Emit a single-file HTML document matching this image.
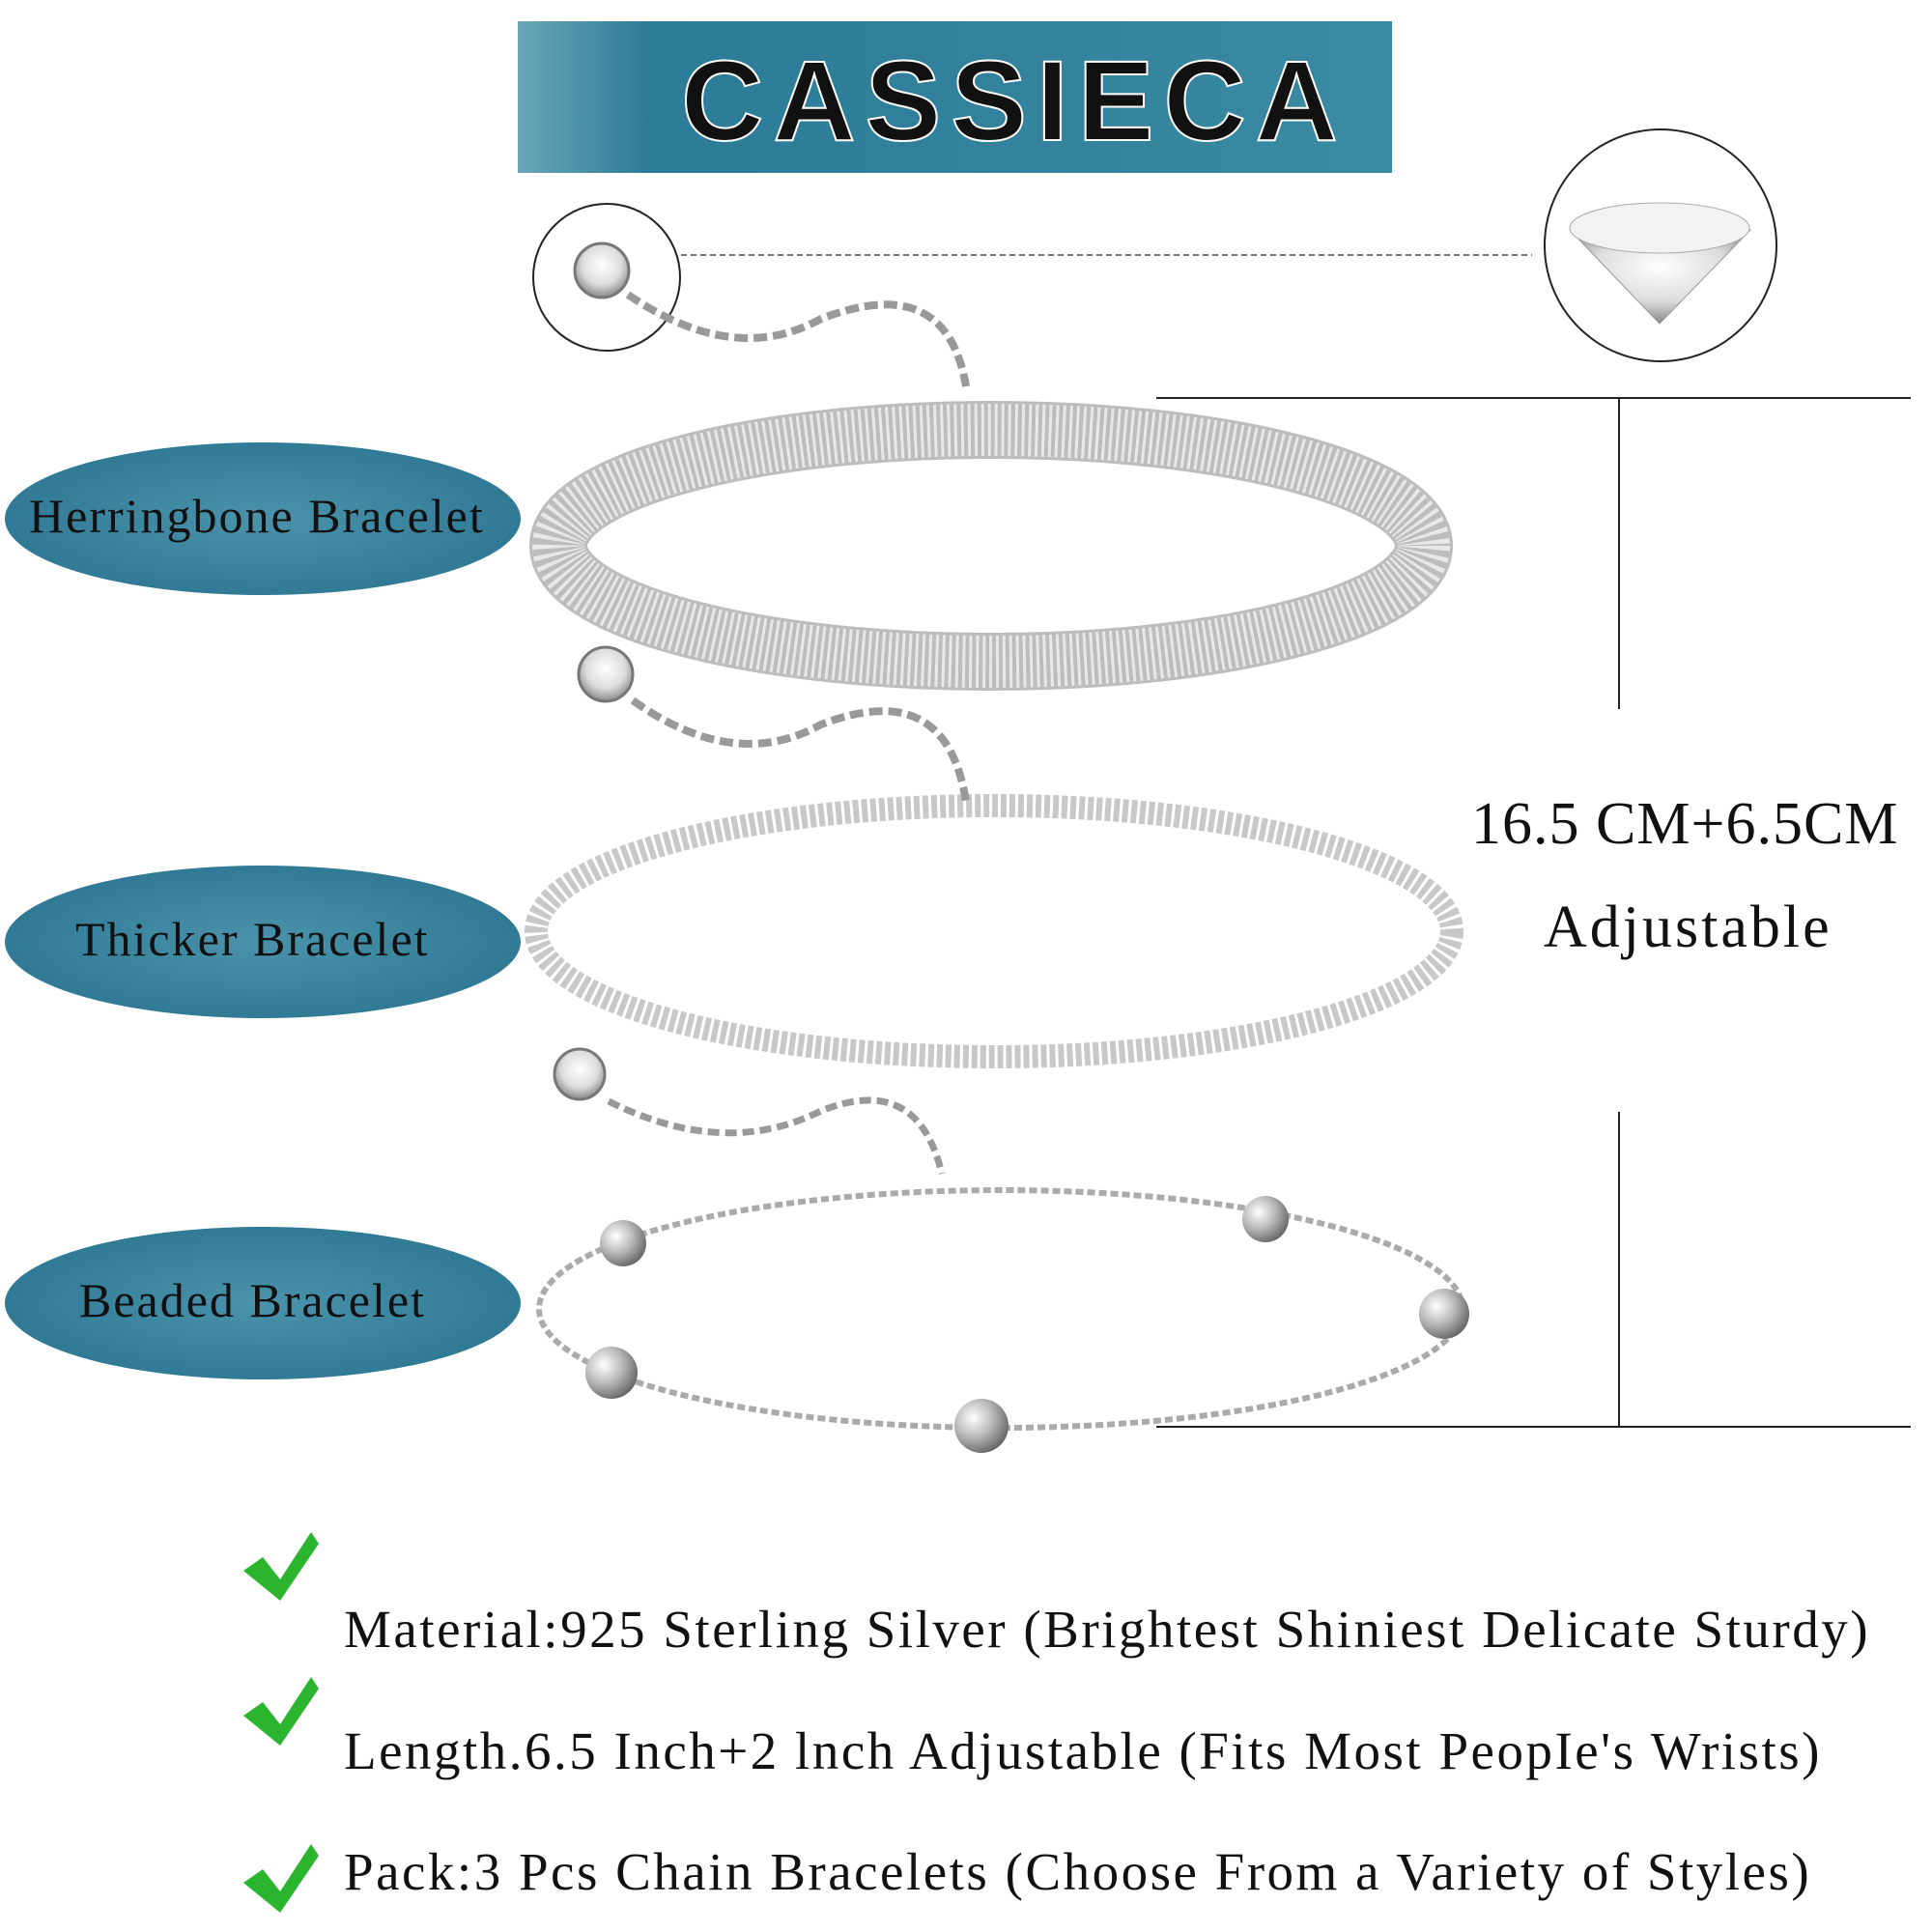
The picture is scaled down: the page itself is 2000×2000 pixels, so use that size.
<!DOCTYPE html>
<html><head><meta charset="utf-8"><style>
html,body{margin:0;padding:0;background:#fff;}
body{width:2000px;height:2000px;position:relative;overflow:hidden;font-family:"Liberation Serif",serif;}
.t{position:absolute;white-space:nowrap;color:#111;}
</style></head><body>
<svg width="2000" height="2000" style="position:absolute;left:0;top:0">
<defs>
<linearGradient id="bn" x1="0" x2="1"><stop offset="0" stop-color="#6aa6b8"/><stop offset="0.15" stop-color="#2c7b97"/><stop offset="1" stop-color="#3a8aa3"/></linearGradient>
<radialGradient id="el" cx="0.5" cy="0.5" r="0.6"><stop offset="0" stop-color="#4b93ab"/><stop offset="1" stop-color="#2b7592"/></radialGradient>
<radialGradient id="bead" cx="0.35" cy="0.35" r="0.7"><stop offset="0" stop-color="#fff"/><stop offset="0.5" stop-color="#bbb"/><stop offset="1" stop-color="#666"/></radialGradient>
<radialGradient id="gem" cx="0.5" cy="0.4" r="0.6"><stop offset="0" stop-color="#fff"/><stop offset="0.6" stop-color="#ddd"/><stop offset="1" stop-color="#888"/></radialGradient>
</defs>
<rect x="536" y="22" width="905" height="157" fill="url(#bn)"/>
<text x="1050" y="145" text-anchor="middle" font-family="Liberation Sans,sans-serif" font-size="118" font-weight="bold" letter-spacing="10" fill="#111" stroke="#fff" stroke-width="2">CASSIECA</text>
<circle cx="628" cy="287" r="76" fill="none" stroke="#222" stroke-width="2"/>
<line x1="705" y1="264" x2="1586" y2="264" stroke="#444" stroke-width="1.5" stroke-dasharray="6,4"/>
<circle cx="1719" cy="254" r="120" fill="none" stroke="#222" stroke-width="2"/>
<path d="M1625 238 L1812 238 L1718 335 Z" fill="url(#gem)" stroke="#999"/>
<ellipse cx="1718" cy="236" rx="93" ry="26" fill="#f2f2f2" stroke="#aaa"/>
<line x1="1197" y1="412" x2="1978" y2="412" stroke="#222" stroke-width="2"/>
<line x1="1676" y1="412" x2="1676" y2="734" stroke="#222" stroke-width="2"/>
<line x1="1676" y1="1151" x2="1676" y2="1477" stroke="#222" stroke-width="2"/>
<line x1="1197" y1="1477" x2="1978" y2="1477" stroke="#222" stroke-width="2"/>
<ellipse cx="272" cy="537" rx="267" ry="79" fill="url(#el)"/>
<ellipse cx="272" cy="975" rx="267" ry="79" fill="url(#el)"/>
<ellipse cx="272" cy="1349" rx="267" ry="79" fill="url(#el)"/>
<!-- herringbone -->
<ellipse cx="1026" cy="565" rx="448" ry="120" fill="none" stroke="#bdbdbd" stroke-width="60"/>
<ellipse cx="1026" cy="565" rx="448" ry="120" fill="none" stroke="#e8e8e8" stroke-width="54" stroke-dasharray="3,4"/>
<circle cx="623" cy="280" r="28" fill="url(#gem)" stroke="#777" stroke-width="3"/>
<path d="M650 305 Q760 380 850 330 Q980 280 1000 400" fill="none" stroke="#999" stroke-width="8" stroke-dasharray="14,6"/>
<!-- thicker -->
<ellipse cx="1029" cy="964" rx="474" ry="130" fill="none" stroke="#c8c8c8" stroke-width="24" stroke-dasharray="6,3"/>
<circle cx="627" cy="698" r="28" fill="url(#gem)" stroke="#777" stroke-width="3"/>
<path d="M655 725 Q760 800 850 750 Q980 700 1000 830" fill="none" stroke="#999" stroke-width="8" stroke-dasharray="14,6"/>
<!-- beaded -->
<ellipse cx="1036" cy="1355" rx="478" ry="123" fill="none" stroke="#aaa" stroke-width="6" stroke-dasharray="8,4"/>
<circle cx="600" cy="1112" r="26" fill="url(#gem)" stroke="#777" stroke-width="3"/>
<path d="M630 1140 Q750 1200 850 1150 Q950 1110 975 1215" fill="none" stroke="#999" stroke-width="7" stroke-dasharray="12,6"/>
<g fill="url(#bead)">
<circle cx="645" cy="1287" r="24"/><circle cx="1310" cy="1262" r="24"/><circle cx="1495" cy="1360" r="26"/><circle cx="633" cy="1421" r="27"/><circle cx="1016" cy="1476" r="28"/>
</g>
<g fill="#2bb52f">
<path d="M252 1626 L272 1612 L290 1635 L322 1586 L330 1598 L290 1657 Z"/>
<path d="M252 1776 L272 1762 L290 1785 L322 1736 L330 1748 L290 1807 Z"/>
<path d="M252 1949 L272 1935 L290 1958 L322 1909 L330 1921 L290 1980 Z"/>
</g>
</svg>
<div class="t" style="left:30px;top:505px;font-size:50px;letter-spacing:2px;">Herringbone Bracelet</div>
<div class="t" style="left:78px;top:943px;font-size:50px;letter-spacing:2px;">Thicker Bracelet</div>
<div class="t" style="left:82px;top:1317px;font-size:50px;letter-spacing:2px;">Beaded Bracelet</div>
<div class="t" style="left:1523px;top:818px;font-size:62px;letter-spacing:1px;">16.5 CM+6.5CM</div>
<div class="t" style="left:1598px;top:925px;font-size:62px;letter-spacing:3px;">Adjustable</div>
<div class="t" style="left:356px;top:1655px;font-size:55px;letter-spacing:2.5px;">Material:925 Sterling Silver (Brightest Shiniest Delicate Sturdy)</div>
<div class="t" style="left:356px;top:1781px;font-size:55px;letter-spacing:2.5px;">Length.6.5 Inch+2 lnch Adjustable (Fits Most PeopIe's Wrists)</div>
<div class="t" style="left:356px;top:1906px;font-size:55px;letter-spacing:2.5px;">Pack:3 Pcs Chain Bracelets (Choose From a Variety of Styles)</div>
</body></html>
